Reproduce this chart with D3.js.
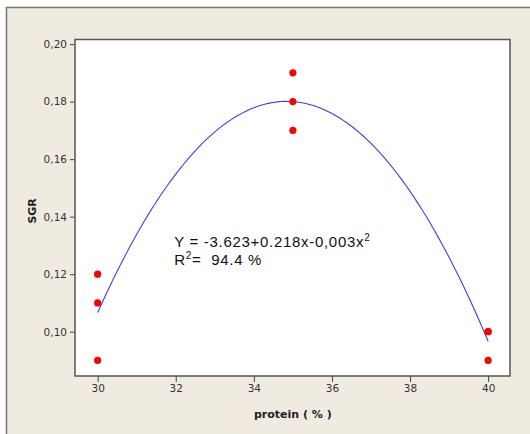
<!DOCTYPE html>
<html>
<head>
<meta charset="utf-8">
<script src="https://cdn.jsdelivr.net/npm/d3@7"></script>
<style>
  body { margin: 0; background: #fff; }
  .tick text { font-family: "DejaVu Sans", sans-serif; font-size: 10.5px; fill: #333; }
  .axisTitle { font-family: "DejaVu Sans", sans-serif; font-size: 11px; font-weight: bold; fill: #222; }
  .eq { font-family: "Liberation Sans", Arial, sans-serif; font-size: 15px; letter-spacing: 0.7px; fill: #111; white-space: pre; }
</style>
</head>
<body>
<div class="chart"></div>
<script>
var proteinLevels = [30, 30, 30, 35, 35, 35, 40, 40, 40];
var sgrValues = [0.12, 0.11, 0.09, 0.19, 0.18, 0.17, 0.10, 0.10, 0.09];
var xTicks = [30, 32, 34, 36, 38, 40];
var yTicks = [0.10, 0.12, 0.14, 0.16, 0.18, 0.20];

var svgWidth = 530;
var svgHeight = 434;

var margin = { top: 39.5, right: 20, bottom: 58, left: 75 };
var width = 510 - margin.left;
var height = 376 - margin.top;

var svg = d3.select(".chart")
  .append("svg")
  .attr("width", svgWidth)
  .attr("height", svgHeight);

// beige panel with left/top frame
svg.append("rect")
  .attr("x", 7).attr("y", 7.5)
  .attr("width", svgWidth - 7).attr("height", svgHeight - 7.5)
  .attr("fill", "#efebe1");
svg.append("path")
  .attr("d", "M6.5," + svgHeight + "V7.5H" + svgWidth)
  .attr("fill", "none")
  .attr("stroke", "#777")
  .attr("stroke-width", 1.5);

var chartGroup = svg.append("g")
  .attr("transform", `translate(${margin.left}, ${margin.top})`);

var xScale = d3.scaleLinear()
  .domain([29.42, 40.56])
  .range([0, width]);

var yScale = d3.scaleLinear()
  .domain([0.0846, 0.2016])
  .range([height, 0]);

chartGroup.append("rect")
  .attr("width", width)
  .attr("height", height)
  .attr("fill", "#fff");

var bottomAxis = d3.axisBottom(xScale)
  .tickValues(xTicks)
  .tickSize(6)
  .tickPadding(3)
  .tickFormat(d3.format("d"));

var leftAxis = d3.axisLeft(yScale)
  .tickValues(yTicks)
  .tickSize(5)
  .tickPadding(3)
  .tickFormat(d => d3.format(".2f")(d).replace(".", ","));

var gx = chartGroup.append("g")
  .attr("transform", `translate(0, ${height})`)
  .call(bottomAxis);
var gy = chartGroup.append("g")
  .call(leftAxis);
[gx, gy].forEach(g => {
  g.select(".domain").remove();
  g.selectAll(".tick line").attr("stroke", "#444");
});

// quadratic least-squares fit of SGR on protein
var S = [0, 0, 0, 0, 0], T = [0, 0, 0];
proteinLevels.forEach((x, i) => {
  for (var k = 0; k < 5; k++) S[k] += Math.pow(x, k);
  for (var k = 0; k < 3; k++) T[k] += Math.pow(x, k) * sgrValues[i];
});
var A = [[S[0], S[1], S[2], T[0]], [S[1], S[2], S[3], T[1]], [S[2], S[3], S[4], T[2]]];
for (var c = 0; c < 3; c++) {
  for (var r = c + 1; r < 3; r++) {
    var f = A[r][c] / A[c][c];
    for (var k = c; k < 4; k++) A[r][k] -= f * A[c][k];
  }
}
var coef = [0, 0, 0];
for (var r = 2; r >= 0; r--) {
  var s = A[r][3];
  for (var k = r + 1; k < 3; k++) s -= A[r][k] * coef[k];
  coef[r] = s / A[r][r];
}
var fitX = d3.range(30, 40.001, 0.1);
var line = d3.line()
  .x(d => xScale(d))
  .y(d => yScale(coef[0] + coef[1] * d + coef[2] * d * d));

chartGroup.append("path")
  .datum(fitX)
  .attr("d", line)
  .attr("fill", "none")
  .attr("stroke", "#3c3cff")
  .attr("stroke-width", 1.1);

chartGroup.selectAll(".pt")
  .data(proteinLevels)
  .enter()
  .append("circle")
  .attr("class", "pt")
  .attr("cx", d => xScale(d))
  .attr("cy", (d, i) => yScale(sgrValues[i]))
  .attr("r", 3.6)
  .attr("fill", "#ff0000");

// plot border
chartGroup.append("rect")
  .attr("width", width)
  .attr("height", height)
  .attr("fill", "none")
  .attr("stroke", "#555")
  .attr("stroke-width", 1.5);

// equation text
var eq = chartGroup.append("text")
  .attr("class", "eq")
  .attr("x", xScale(31.96))
  .attr("y", yScale(0.1296));
eq.append("tspan").text("Y = -3.623+0.218x-0,003x");
eq.append("tspan").attr("dy", -6).attr("font-size", "10px").text("2");

var r2 = chartGroup.append("text")
  .attr("class", "eq")
  .attr("x", xScale(31.96))
  .attr("y", yScale(0.1231));
r2.append("tspan").text("R");
r2.append("tspan").attr("dy", -6).attr("font-size", "10px").text("2");
r2.append("tspan").attr("dy", 6).text("=  94.4 %");

// axis titles
chartGroup.append("text")
  .attr("class", "axisTitle")
  .attr("transform", "rotate(-90)")
  .attr("x", -(yScale(0.142)))
  .attr("y", 36 - margin.left)
  .attr("text-anchor", "middle")
  .text("SGR");

chartGroup.append("text")
  .attr("class", "axisTitle")
  .attr("x", xScale(35))
  .attr("y", height + 42)
  .attr("text-anchor", "middle")
  .text("protein ( % )");
</script>
</body>
</html>
